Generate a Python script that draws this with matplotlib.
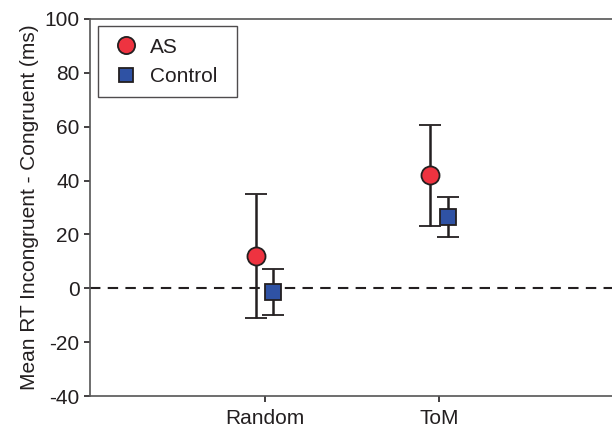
import matplotlib
matplotlib.use("Agg")
import matplotlib.pyplot as plt
import numpy as np

plt.rcParams['font.family'] = ['Liberation Sans', 'DejaVu Sans']

categories = ["Random", "ToM"]
as_mean = [12, 42]
as_upper = [35, 60.5]
as_lower = [-11, 23]
ctrl_mean = [-1.5, 26.5]
ctrl_upper = [7, 34]
ctrl_lower = [-10, 19]
yticks = [-40, -20, 0, 20, 40, 60, 80, 100]

txt = '#231F20'
red = '#EE3340'
blue = '#2F52A4'
fs = 15

fig = plt.figure(figsize=(6.12, 4.30), dpi=100)
ax = fig.add_axes([0.147, 0.079, 0.856, 0.877])

x = np.arange(1, len(categories) + 1)
off = 0.05

as_err = [np.array(as_mean) - np.array(as_lower), np.array(as_upper) - np.array(as_mean)]
ct_err = [np.array(ctrl_mean) - np.array(ctrl_lower), np.array(ctrl_upper) - np.array(ctrl_mean)]

ax.axhline(0, color=txt, lw=1.5, ls=(0, (5, 3.5)), zorder=1)

ax.errorbar(x - off, as_mean, yerr=as_err, fmt='o', ms=13, mfc=red, mec=txt, mew=1.3,
            ecolor=txt, elinewidth=1.8, capsize=8, capthick=1.8, label='AS', zorder=3)
ax.errorbar(x + off, ctrl_mean, yerr=ct_err, fmt='s', ms=11, mfc=blue, mec=txt, mew=1.3,
            ecolor=txt, elinewidth=1.8, capsize=8, capthick=1.8, label='Control', zorder=3)

ax.set_xlim(0, 3)
ax.set_ylim(-40, 100)
ax.set_yticks(yticks)
ax.set_yticklabels([str(t) for t in yticks])
ax.set_xticks(x)
ax.set_xticklabels(categories)
ax.tick_params(axis='both', labelsize=fs, colors=txt, length=4.5, width=1.2, direction='out')
ax.tick_params(axis='x', pad=5)
ax.tick_params(axis='y', pad=3)
for s in ax.spines.values():
    s.set_color('#555555')
    s.set_linewidth(1.2)
ax.spines['right'].set_visible(False)

ax.set_ylabel('Mean RT Incongruent - Congruent (ms)', fontsize=fs, color=txt, labelpad=4)

handles, labels = ax.get_legend_handles_labels()
handles = [h[0] for h in handles]
leg = ax.legend(handles, labels, loc='upper left', bbox_to_anchor=(0.0155, 0.981, 0.265, 0.0),
                mode='expand',
                fontsize=fs, frameon=True, fancybox=False, edgecolor=txt,
                borderpad=0.55, handletextpad=0.35, labelspacing=0.5, handlelength=1.6,
                borderaxespad=0, markerscale=0.95)
leg.get_frame().set_linewidth(1.0)
for t in leg.get_texts():
    t.set_color(txt)

fig.savefig('out.png', dpi=100)
